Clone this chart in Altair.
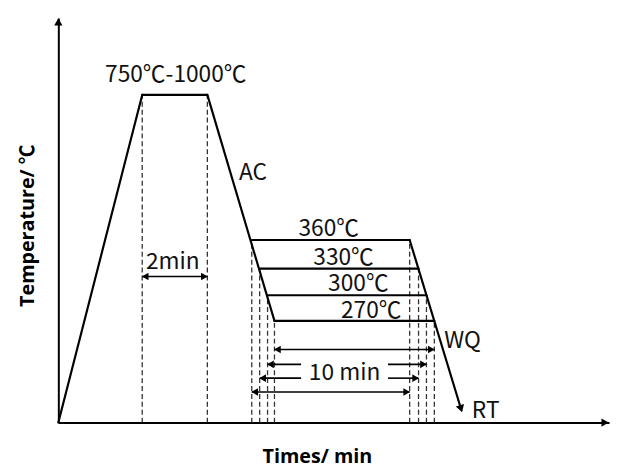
import altair as alt
import pandas as pd

# ---- schematic data (time units on x, temperature units on y) ----
level_labels = ["360℃", "330℃", "300℃", "270℃"]
level_y = [185, 156, 129, 103]
hold_start = [196, 204, 212, 219]
hold_end = [356, 365, 373, 381]

peak_y = 332
heat_end = 85
soak_end = 151
ac_end_x, ac_end_y = 219, 103
wq_x0, wq_y0 = 356, 185
wq_x1, wq_y1 = 408, 14

soak_arrow_y = 148
ten_arrow_y = [31, 45, 59, 74]          # 360, 330, 300, 270 holds
text_gap = (246, 334)
split_arrow = [False, True, True, False]

X_MAX, Y_MAX = 558, 410

# ---- tables built from the arrays ----
solid = [
    dict(x=0, y=0, x2=heat_end, y2=peak_y),
    dict(x=heat_end, y=peak_y, x2=soak_end, y2=peak_y),
    dict(x=soak_end, y=peak_y, x2=ac_end_x, y2=ac_end_y),
    dict(x=wq_x0, y=wq_y0, x2=wq_x1, y2=wq_y1),
]
for s, e, yy in zip(hold_start, hold_end, level_y):
    solid.append(dict(x=s, y=yy, x2=e, y2=yy))
solid_df = pd.DataFrame(solid)

dash_x = [heat_end, soak_end] + hold_start + hold_end
dash_top = [peak_y, peak_y] + level_y + level_y
dash_df = pd.DataFrame(dict(x=dash_x, y=[0] * len(dash_x), y2=dash_top))

arr = [dict(x=heat_end, x2=soak_end, y=soak_arrow_y)]
left_heads = [dict(x=heat_end, y=soak_arrow_y)]
right_heads = [dict(x=soak_end, y=soak_arrow_y)]
for s, e, yy, sp in zip(hold_start, hold_end, ten_arrow_y, split_arrow):
    if sp:
        arr.append(dict(x=s, x2=text_gap[0], y=yy))
        arr.append(dict(x=text_gap[1], x2=e, y=yy))
    else:
        arr.append(dict(x=s, x2=e, y=yy))
    left_heads.append(dict(x=s, y=yy))
    right_heads.append(dict(x=e, y=yy))
arr_df = pd.DataFrame(arr)
lh_df = pd.DataFrame(left_heads)
rh_df = pd.DataFrame(right_heads)

center_text = pd.DataFrame(dict(
    x=[119, 116, 274, 289, 304, 317, 290],
    y=[352, 163, 196, 167, 140, 113, 50],
    t=["750℃-1000℃", "2min"] + level_labels + ["10 min"],
))
left_text = pd.DataFrame(dict(
    x=[183, 391, 419],
    y=[253, 83, 12],
    t=["AC", "WQ", "RT"],
))

LABEL_FONT = "'Noto Sans CJK SC', sans-serif"
TITLE_FONT = "Open Sans, 'Noto Sans CJK SC', sans-serif"

xscale = alt.Scale(domain=[0, X_MAX], nice=False, zero=False)
yscale = alt.Scale(domain=[0, Y_MAX], nice=False, zero=False)
xaxis = alt.Axis(title="Times/ min", labels=False, ticks=False, grid=False,
                 domainColor="black", domainWidth=2,
                 titleFont=TITLE_FONT, titleFontWeight="bold", titleFontSize=20,
                 titleColor="black", titlePadding=24, titleX=262)
yaxis = alt.Axis(title="Temperature/ ℃", labels=False, ticks=False, grid=False,
                 domainColor="black", domainWidth=2,
                 titleFont=TITLE_FONT, titleFontWeight="bold", titleFontSize=20,
                 titleColor="black", titlePadding=21, titleY=210)


def X(f):
    return alt.X(f, type="quantitative", scale=xscale, axis=xaxis)


def Y(f):
    return alt.Y(f, type="quantitative", scale=yscale, axis=yaxis)


solid_layer = alt.Chart(solid_df).mark_rule(
    color="black", strokeWidth=2.2, strokeCap="round"
).encode(x=X("x"), y=Y("y"), x2="x2", y2="y2")

dash_layer = alt.Chart(dash_df).mark_rule(
    color="#333", strokeWidth=1.3, strokeDash=[5, 3]
).encode(x=X("x"), y=Y("y"), y2="y2")

arrow_layer = alt.Chart(arr_df).mark_rule(
    color="black", strokeWidth=1.6
).encode(x=X("x"), x2="x2", y=Y("y"))

lh_layer = alt.Chart(lh_df).mark_point(
    shape="triangle-left", filled=True, color="black", size=60, opacity=1, xOffset=3
).encode(x=X("x"), y=Y("y"))

rh_layer = alt.Chart(rh_df).mark_point(
    shape="triangle-right", filled=True, color="black", size=60, opacity=1, xOffset=-3
).encode(x=X("x"), y=Y("y"))

wq_head = alt.Chart(pd.DataFrame(dict(x=[wq_x1], y=[wq_y1]))).mark_point(
    shape="triangle-down", filled=True, color="black", size=75, opacity=1, angle=343
).encode(x=X("x"), y=Y("y"))

axis_heads = pd.DataFrame(dict(x=[X_MAX - 4, 0], y=[0, Y_MAX - 4],
                               s=["triangle-right", "triangle-up"]))
axis_head_layer = alt.Chart(axis_heads).mark_point(
    filled=True, color="black", size=70, opacity=1
).encode(x=X("x"), y=Y("y"),
         shape=alt.Shape("s:N", scale=None, legend=None))

ctext = alt.Chart(center_text).mark_text(
    font=LABEL_FONT, fontSize=23, color="#111", align="center", baseline="middle"
).encode(x=X("x"), y=Y("y"), text="t:N")

ltext = alt.Chart(left_text).mark_text(
    font=LABEL_FONT, fontSize=23, color="#111", align="left", baseline="middle"
).encode(x=X("x"), y=Y("y"), text="t:N")

chart = alt.layer(
    dash_layer, arrow_layer, lh_layer, rh_layer, solid_layer, wq_head,
    axis_head_layer, ctext, ltext
).properties(
    width=X_MAX, height=Y_MAX,
    autosize=alt.AutoSizeParams(type="none"),
    padding={"left": 51, "top": 7, "right": 2, "bottom": 45},
    background="white",
).configure_view(stroke=None)

chart.save("out.html", embed_options={"renderer": "svg", "actions": False})
